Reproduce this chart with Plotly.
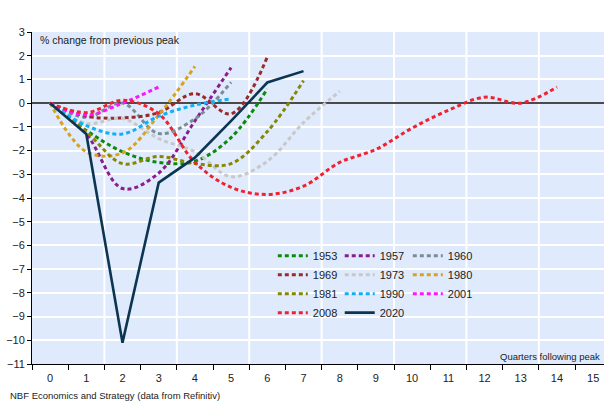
import plotly.graph_objects as go

# Real GDP path after each business-cycle peak (% change from previous peak), by quarter
gdp_1953 = [0, -1.15, -2.05, -2.5, -2.45, -1.45, 0.6]
gdp_1957 = [0, -1.3, -3.6, -2.95, -0.75, 1.5]
gdp_1960 = [0, -0.6, 0.0, -1.28, -0.66, 0.88]
gdp_1969 = [0, -0.55, -0.62, -0.4, 0.4, -0.45, 1.95]
gdp_1973 = [0, -0.85, -0.65, -1.5, -2.05, -3.1, -2.45, -0.82, 0.5]
gdp_1980 = [0, -2.05, -2.1, -0.5, 1.55]
gdp_1981 = [0, -1.2, -2.55, -2.25, -2.55, -2.55, -1.2, 0.95]
gdp_1990 = [0, -0.95, -1.3, -0.55, -0.08, 0.18]
gdp_2001 = [0, -0.5, 0.0, 0.68]
gdp_2008 = [0, -0.4, 0.12, -0.45, -2.5, -3.55, -3.85, -3.5, -2.5, -1.95, -1.05, -0.3, 0.25, 0.0, 0.68]
gdp_2020 = [0, -1.3, -10.1, -3.35, -2.3, -0.75, 0.87, 1.35]

quarter_ticks = list(range(0, 16))
value_ticks = list(range(-11, 4))

# name, values, colour, legend column
series = [
    ("1953", gdp_1953, "#0c8a0c", "legend"),
    ("1957", gdp_1957, "#8b1c8b", "legend2"),
    ("1960", gdp_1960, "#7a8c97", "legend3"),
    ("1969", gdp_1969, "#9a2a2a", "legend"),
    ("1973", gdp_1973, "#c8c8c8", "legend2"),
    ("1980", gdp_1980, "#d8a31a", "legend3"),
    ("1981", gdp_1981, "#878700", "legend"),
    ("1990", gdp_1990, "#0fb0f5", "legend2"),
    ("2001", gdp_2001, "#ff14ff", "legend3"),
    ("2008", gdp_2008, "#f0222e", "legend"),
]

FONT = "Arial, Liberation Sans, sans-serif"

fig = go.Figure()
for name, vals, color, leg in series:
    fig.add_trace(go.Scatter(
        x=list(range(len(vals))), y=vals, name=name, mode="lines",
        line=dict(color=color, width=3, dash="4px,3px", shape="spline", smoothing=1.0),
        legend=leg,
    ))

fig.add_trace(go.Scatter(
    x=list(range(len(gdp_2020))), y=gdp_2020, name="2020", mode="lines",
    line=dict(color="#0b3550", width=2.6), legend="legend2",
))

# vertical white gridlines every two quarters, between category slots
grid_shapes = [
    dict(type="line", xref="x", yref="paper", x0=v, x1=v, y0=0, y1=1,
         line=dict(color="white", width=2), layer="below")
    for v in [q + 0.5 for q in range(1, 16, 2)]
]

leg_common = dict(xanchor="left", yanchor="top", bgcolor="rgba(0,0,0,0)",
                  font=dict(family=FONT, size=11, color="#222"),
                  tracegroupgap=0, orientation="v")

fig.update_layout(
    width=604, height=402,
    margin=dict(l=32, r=0, t=32, b=38),
    paper_bgcolor="white",
    plot_bgcolor="#dfeafc",
    font=dict(family=FONT, size=11, color="#222"),
    showlegend=True,
    legend=dict(x=0.421, y=0.37, **leg_common),
    legend2=dict(x=0.538, y=0.37, **leg_common),
    legend3=dict(x=0.657, y=0.37, **leg_common),
    shapes=grid_shapes,
    xaxis=dict(
        range=[-0.5, 15.3], tickvals=quarter_ticks, ticktext=[str(q) for q in quarter_ticks],
        ticks="", showgrid=False, zeroline=False,
        showline=True, linecolor="black", linewidth=1,
        ticklabelstandoff=4,
        tickfont=dict(family=FONT, size=11, color="#222"),
        minor=dict(tickvals=[q - 0.5 for q in range(0, 17)], ticks="outside",
                   ticklen=5, tickcolor="black", tickwidth=1, showgrid=False),
    ),
    yaxis=dict(
        range=[-11, 3], tickvals=value_ticks, ticks="outside", ticklen=4,
        tickcolor="black", showline=True, linecolor="black", linewidth=1,
        showgrid=True, gridcolor="white", gridwidth=1.5,
        zeroline=True, zerolinecolor="#4a4a4a", zerolinewidth=2,
        tickfont=dict(family=FONT, size=11, color="#222"),
    ),
    annotations=[
        dict(text="% change from previous peak", xref="paper", yref="paper",
             x=0.0105, y=0.976, xanchor="left", yanchor="middle", showarrow=False,
             font=dict(family=FONT, size=10.5, color="#222")),
        dict(text="Quarters following peak", xref="paper", yref="paper",
             x=0.997, y=0.024, xanchor="right", yanchor="middle", showarrow=False,
             font=dict(family=FONT, size=9.5, color="#222")),
        dict(text="NBF Economics and Strategy (data from Refinitiv)", xref="paper", yref="paper",
             x=-0.042, y=-0.0934, xanchor="left", yanchor="middle", showarrow=False,
             font=dict(family=FONT, size=9.5, color="#222")),
    ],
)

fig.write_html("out.html")
